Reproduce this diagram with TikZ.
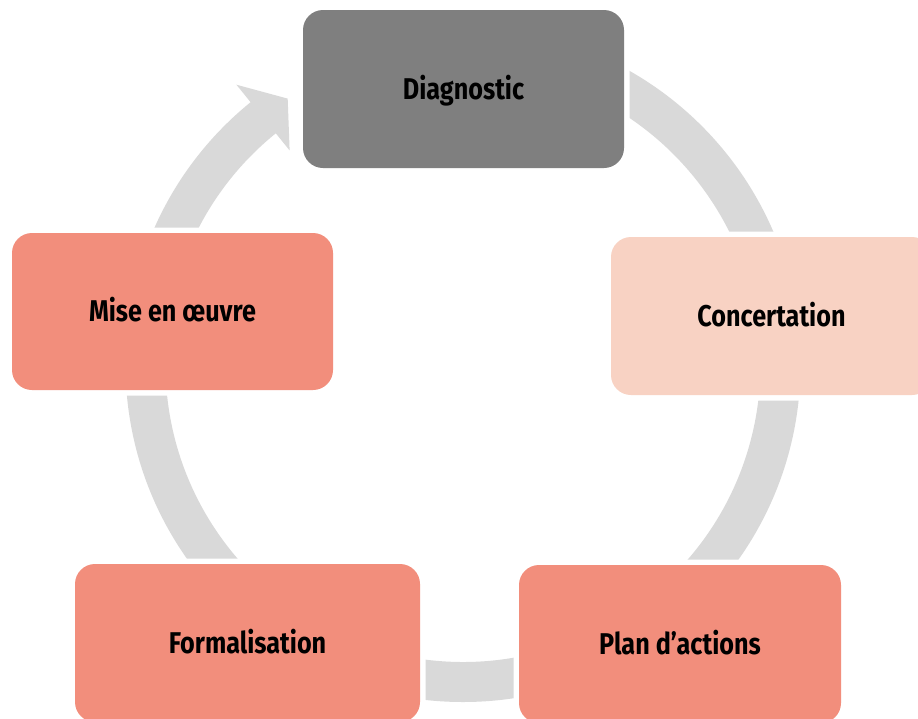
\documentclass[tikz,border=0pt]{standalone}
\usepackage{fontspec}
\usetikzlibrary{calc}
\newfontfamily\labelfont{Fira Sans}[FakeStretch=0.84]
\definecolor{ringgray}{HTML}{D9D9D9}
\definecolor{diaggray}{HTML}{7F7F7F}
\definecolor{peach}{HTML}{F8D2C3}
\definecolor{salmon}{HTML}{F28E7C}
\begin{document}
\begin{tikzpicture}[x=1pt,y=-1pt,
  stage/.style={rectangle, rounded corners=20pt, inner sep=0pt,
    minimum height=158pt, minimum width=321pt,
    preaction={draw=white, line width=11pt},
    font=\labelfont\bfseries\fontsize{30}{36}\selectfont,
    text=black, text height=20.7pt, text depth=0pt}]
\useasboundingbox (0,0) rectangle (918,718);
\fill[white] (0,0) rectangle (918,718);
\clip (0,0) rectangle (918,718);
\coordinate (C) at (463,364.5);
% continuous circular arrow
\fill[ringgray] ($(C)+(-90:337.5)$) arc[start angle=-90,end angle=231,radius=337.5]
  -- ($(C)+(231:360)$) -- ($(C)+(236.6:318.5)$) -- ($(C)+(231:275.5)$)
  -- ($(C)+(231:297.5)$) arc[start angle=231,end angle=-90,radius=297.5] -- cycle;
% stages
\node[stage, fill=diaggray] (diag) at (463.5,89) {Diagnostic};
\node[stage, fill=peach] (conc) at (771.5,316) {Concertation};
\node[stage, fill=salmon, minimum width=322pt] (plan) at (680,644) {Plan d’actions};
\node[stage, fill=salmon, minimum width=345pt] (form) at (247.5,643) {Formalisation};
\node[stage, fill=salmon, minimum height=157pt] (mise) at (172.5,311.5) {Mise en œuvre};
\end{tikzpicture}
\end{document}
